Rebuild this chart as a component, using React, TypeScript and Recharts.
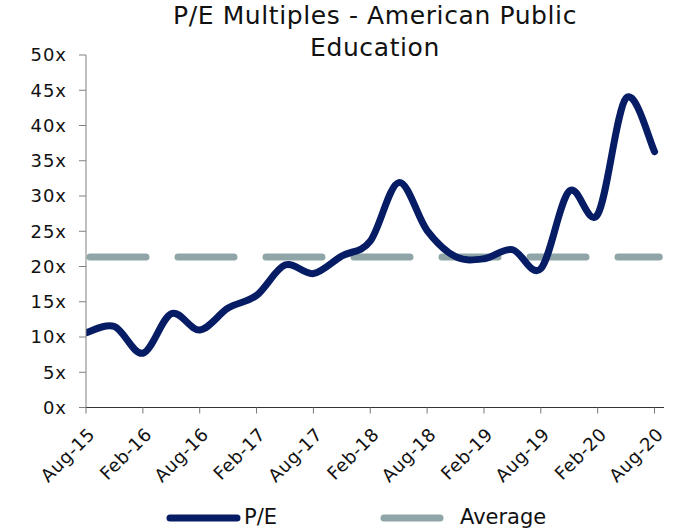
import React from "react";
import { LineChart, Line, XAxis, YAxis, ReferenceLine } from "recharts";

// ---- data ----
const monthsSinceAug15 = [0, 3, 6, 9, 12, 15, 18, 21, 24, 27, 30, 33, 36, 39, 42, 45, 48, 51, 54, 57, 60];
const peValues = [10.6, 11.5, 7.7, 13.3, 11.0, 14.1, 15.9, 20.2, 19.0, 21.5, 23.6, 31.9, 25.1, 21.4, 21.1, 22.4, 19.7, 30.7, 27.4, 43.9, 36.3];
const averageValue = 21.35;
const averageSpan = [0, 60.5];
const xTickMonths = [0, 6, 12, 18, 24, 30, 36, 42, 48, 54, 60];
const xTickLabels = ["Aug-15", "Feb-16", "Aug-16", "Feb-17", "Aug-17", "Feb-18", "Aug-18", "Feb-19", "Aug-19", "Feb-20", "Aug-20"];
const yTicks = [0, 5, 10, 15, 20, 25, 30, 35, 40, 45, 50];

const data = monthsSinceAug15.map((m, i) => ({ m, pe: peValues[i] }));

const FONT = "'DejaVu Sans', sans-serif";
const NAVY = "#061C64";
const GREY = "#8FA5A8";

// Excel-like smoothing (Catmull-Rom style cubic Bezier)
function smoothCurve(context: any) {
  let pts: number[][] = [];
  return {
    areaStart() {},
    areaEnd() {},
    lineStart() {
      pts = [];
    },
    lineEnd() {
      const n = pts.length;
      if (!n) return;
      context.moveTo(pts[0][0], pts[0][1]);
      for (let i = 0; i < n - 1; i++) {
        const p0 = pts[Math.max(i - 1, 0)];
        const p1 = pts[i];
        const p2 = pts[i + 1];
        const p3 = pts[Math.min(i + 2, n - 1)];
        context.bezierCurveTo(
          p1[0] + (p2[0] - p0[0]) / 6,
          p1[1] + (p2[1] - p0[1]) / 6,
          p2[0] - (p3[0] - p1[0]) / 6,
          p2[1] - (p3[1] - p1[1]) / 6,
          p2[0],
          p2[1]
        );
      }
    },
    point(x: number, y: number) {
      pts.push([+x, +y]);
    },
  };
}

const XTick = (props: any) => {
  const { x, y, payload } = props;
  const idx = xTickMonths.indexOf(payload.value);
  const ax = x + 10;
  const ay = y + 20;
  return (
    <text
      x={ax}
      y={ay}
      transform={`rotate(-45, ${ax}, ${ay})`}
      textAnchor="end"
      fontFamily={FONT}
      fontSize={18}
      letterSpacing={0.5}
      fill="#111"
    >
      {idx >= 0 ? xTickLabels[idx] : ""}
    </text>
  );
};

export default function App() {
  return (
    <div style={{ position: "absolute", left: 0, top: 0, width: 685, height: 532, background: "#fff" }}>
      <div
        style={{
          position: "absolute",
          left: 86,
          width: 578,
          top: 0,
          textAlign: "center",
          fontFamily: FONT,
          fontSize: 25,
          letterSpacing: 0.6,
          lineHeight: "32px",
          color: "#111",
        }}
      >
        P/E Multiples - American Public
        <br />
        Education
      </div>
      <LineChart
        width={685}
        height={532}
        data={data}
        margin={{ top: 55, right: 21, bottom: 64.5, left: 26 }}
      >
        <XAxis
          dataKey="m"
          type="number"
          domain={[0, 61]}
          ticks={xTickMonths}
          interval={0}
          allowDataOverflow
          stroke="#333"
          tickLine={{ stroke: "#777" }}
          tickSize={6}
          tickMargin={2}
          height={60}
          tick={<XTick />}
        />
        <YAxis
          type="number"
          domain={[0, 50]}
          ticks={yTicks}
          interval={0}
          width={60}
          stroke="#808080"
          tickSize={7}
          tickMargin={12}
          tickFormatter={(v: number) => `${v}x`}
          tick={{ fontFamily: FONT, fontSize: 18, fill: "#111", letterSpacing: 1 }}
        />
        <ReferenceLine
          segment={[
            { x: averageSpan[0], y: averageValue },
            { x: averageSpan[1], y: averageValue },
          ]}
          stroke={GREY}
          strokeWidth={7}
          strokeLinecap="round"
          strokeDasharray="56 32"
          strokeDashoffset={-4}
          ifOverflow="visible"
        />
        <Line
          dataKey="pe"
          type={smoothCurve as any}
          stroke={NAVY}
          strokeWidth={7}
          strokeLinecap="round"
          dot={false}
          activeDot={false}
          isAnimationActive={false}
        />
      </LineChart>
      <div style={{ position: "absolute", left: 0, top: 500, width: 685, height: 32 }}>
        <svg width={685} height={32} style={{ position: "absolute", left: 0, top: 0 }}>
          <line x1={170} y1={18} x2={237} y2={18} stroke={NAVY} strokeWidth={7} strokeLinecap="round" />
          <line x1={384} y1={18} x2={440} y2={18} stroke={GREY} strokeWidth={7} strokeLinecap="round" />
        </svg>
        <span style={{ position: "absolute", left: 244, top: 3, fontFamily: FONT, fontSize: 21, lineHeight: "28px", color: "#111" }}>P/E</span>
        <span style={{ position: "absolute", left: 460, top: 3, fontFamily: FONT, fontSize: 21, lineHeight: "28px", color: "#111" }}>Average</span>
      </div>
    </div>
  );
}
